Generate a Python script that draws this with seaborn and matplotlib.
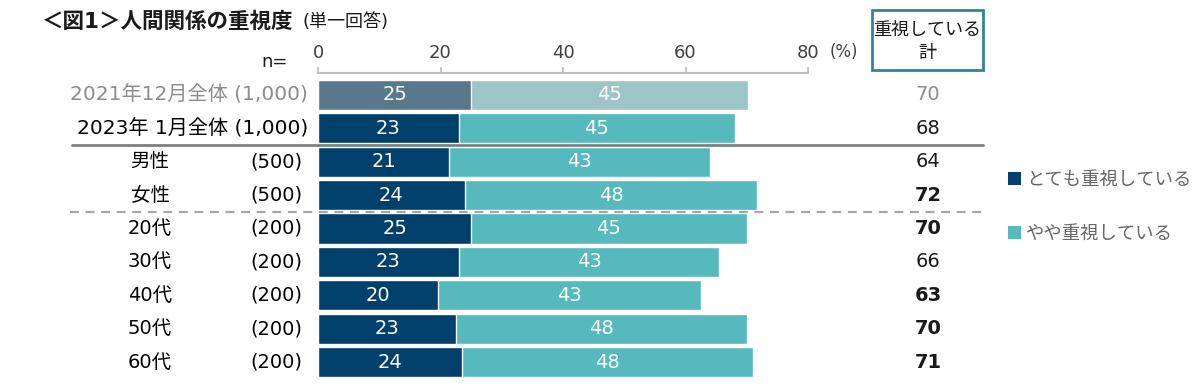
import matplotlib
matplotlib.use("Agg")
import matplotlib.pyplot as plt
import matplotlib.transforms as mtransforms
from matplotlib.patches import Rectangle, Patch
from matplotlib.lines import Line2D
import pandas as pd
import seaborn as sns

# ---- data ----
groups = ["2021年12月全体", "2023年 1月全体", "男性", "女性",
          "20代", "30代", "40代", "50代", "60代"]
n_labels = ["(1,000)", "(1,000)", "(500)", "(500)",
            "(200)", "(200)", "(200)", "(200)", "(200)"]
very = [25.0, 23.0, 21.4, 24.0, 25.0, 23.0, 19.6, 22.5, 23.5]
somewhat = [45.2, 45.1, 42.6, 47.7, 45.0, 42.5, 42.9, 47.5, 47.5]
very_lbl = [25, 23, 21, 24, 25, 23, 20, 23, 24]
somewhat_lbl = [45, 45, 43, 48, 45, 43, 43, 48, 48]
total_lbl = [70, 68, 64, 72, 70, 66, 63, 70, 71]
total_bold = [False, False, False, True, True, False, True, True, True]
xticks = [0, 20, 40, 60, 80]

DARK = "#00406A"
TEAL = "#55B9BE"
OLD_DARK = "#5A788C"
OLD_TEAL = "#9DC4C6"
GRAY_TXT = "#8C8C8C"

sns.set_theme(style="white")
# DejaVu for latin/digits (wide, like the original), Noto CJK for kana/kanji
plt.rcParams["font.family"] = ["DejaVu Sans", "Noto Sans CJK JP"]

df = pd.DataFrame({"group": groups, "very": very,
                   "total": [a + b for a, b in zip(very, somewhat)]})

W, H = 1199, 391
fig = plt.figure(figsize=(W / 100, H / 100), dpi=100)
ax = fig.add_axes([318 / W, 1 - 378.7 / H, 490 / W, 300.4 / H])

light_pal = [OLD_TEAL] + [TEAL] * (len(groups) - 1)
dark_pal = [OLD_DARK] + [DARK] * (len(groups) - 1)
sns.barplot(data=df, x="total", y="group", hue="group", palette=light_pal,
            orient="h", width=0.9, saturation=1, legend=False, ax=ax)
sns.barplot(data=df, x="very", y="group", hue="group", palette=dark_pal,
            orient="h", width=0.9, saturation=1, legend=False, ax=ax)

ax.set_xlim(0, 80)
ax.set_ylim(len(groups) - 0.5, -0.5)
ax.set_xlabel("")
ax.set_ylabel("")
ax.set_yticks([])
ax.xaxis.tick_top()
ax.set_xticks(xticks)
ax.tick_params(axis="x", colors="#BFBFBF", length=4, width=1.3, pad=3.5,
               labelsize=13, labelcolor="#404040")
for s in ["left", "right", "bottom"]:
    ax.spines[s].set_visible(False)
ax.spines["top"].set_color("#BFBFBF")
ax.spines["top"].set_linewidth(1.5)
ax.spines["top"].set_position(("outward", 4))

# values inside bars
for i in range(len(groups)):
    ax.text(very[i] / 2, i, str(very_lbl[i]), ha="center", va="center",
            color="white", fontsize=14)
    ax.text(very[i] + somewhat[i] / 2, i, str(somewhat_lbl[i]), ha="center",
            va="center", color="white", fontsize=14)

# row labels and totals
tr = mtransforms.blended_transform_factory(fig.transFigure, ax.transData)
for i, g in enumerate(groups):
    if i < 2:
        col = GRAY_TXT if i == 0 else "black"
        ax.text(308 / W, i, f"{g} {n_labels[i]}", transform=tr, ha="right",
                va="center", fontsize=14.5, color=col)
    else:
        ax.text(150 / W, i, g, transform=tr, ha="center", va="center",
                fontsize=14, color="black")
        ax.text(302 / W, i, n_labels[i], transform=tr, ha="right",
                va="center", fontsize=14, color="black")
    tcol = GRAY_TXT if i == 0 else "#1a1a1a"
    ax.text(928 / W, i, str(total_lbl[i]), transform=tr, ha="center",
            va="center", fontsize=14, color=tcol,
            fontweight="bold" if total_bold[i] else "normal")

# separators
ax.add_line(Line2D([72 / W, 983 / W], [1.5, 1.5], transform=tr,
                   color="#808080", lw=2, clip_on=False))
ax.add_line(Line2D([70 / W, 983 / W], [3.5, 3.5], transform=tr,
                   color="#A6A6A6", lw=1.6, dashes=(4, 3), clip_on=False))

# title, units
fig.text(42 / W, 1 - 22 / H, "＜図1＞人間関係の重視度", fontsize=15.5,
         fontweight="bold", va="center", ha="left", color="#1a1a1a")
fig.text(302 / W, 1 - 22 / H, "(単一回答)", fontsize=13, va="center",
         ha="left", color="#1a1a1a")
fig.text(275 / W, 1 - 62 / H, "n=", fontsize=13, va="center", ha="center",
         color="#1a1a1a")
fig.text(830 / W, 1 - 52 / H, "(%)", fontsize=12, va="center", ha="left",
         color="#404040")

# header box
fig.patches.append(Rectangle((872 / W, 1 - 70 / H), 111 / W, 60 / H,
                             transform=fig.transFigure, fill=False,
                             edgecolor="#31849B", lw=2))
fig.text(927.5 / W, 1 - 30 / H, "重視している", fontsize=13, ha="center",
         va="center", color="#1a1a1a")
fig.text(927.5 / W, 1 - 53 / H, "計", fontsize=13, ha="center",
         va="center", color="#1a1a1a")

# legend
handles = [Patch(facecolor=DARK, edgecolor="none"),
           Patch(facecolor=TEAL, edgecolor="none")]
leg = fig.legend(handles, ["とても重視している", "やや重視している"],
                 loc="upper left", bbox_to_anchor=(1008 / W, 1 - 171 / H),
                 frameon=False, fontsize=13.2, handlelength=0.7,
                 handleheight=0.7, handletextpad=0.3, labelspacing=1.95,
                 borderaxespad=0, borderpad=0)
for t in leg.get_texts():
    t.set_color("#666666")

fig.savefig("out.png", dpi=100)
